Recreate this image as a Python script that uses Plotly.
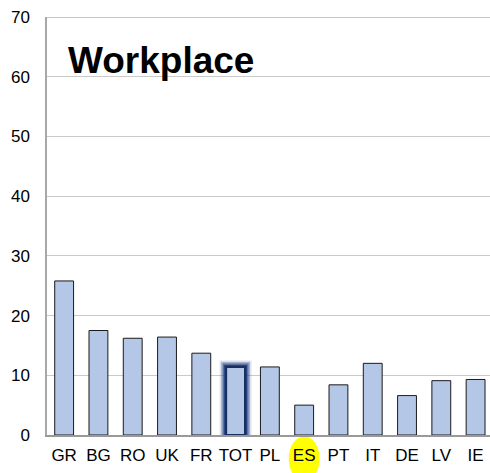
import plotly.graph_objects as go

countries = ["GR", "BG", "RO", "UK", "FR", "TOT", "PL", "ES", "PT", "IT", "DE", "LV", "IE"]
values = [25.8, 17.5, 16.2, 16.4, 13.7, 11.4, 11.4, 5.0, 8.4, 12.0, 6.6, 9.1, 9.3]
y_ticks = [0, 10, 20, 30, 40, 50, 60, 70]

total_label = "TOT"
marked_label = "ES"

FONT = "Arial, Liberation Sans, sans-serif"
BAR_FILL = "#b4c7e7"
BAR_W = 0.55
PX_PER_CAT = 443 / 12.92
PX_PER_UNIT = 418 / 70

fig = go.Figure()

# soft dark-blue glow around the total bar
i_tot = countries.index(total_label)
for grow, alpha in [(6.5, 0.15), (5, 0.3), (3.5, 0.55), (2, 0.9)]:
    fig.add_trace(go.Bar(
        x=[i_tot], y=[values[i_tot] + grow / PX_PER_UNIT],
        width=BAR_W + 2 * grow / PX_PER_CAT,
        marker=dict(color=f"rgba(30,62,128,{alpha})", line=dict(width=0)),
        hoverinfo="skip", showlegend=False,
    ))

fig.add_trace(go.Bar(
    x=list(range(len(countries))), y=values, width=BAR_W,
    marker=dict(
        color=BAR_FILL,
        line=dict(color=["#1c2f5c" if c == total_label else "#1a1a1a" for c in countries],
                  width=[2 if c == total_label else 1 for c in countries]),
    ),
    showlegend=False,
))

# yellow highlight behind one label
i_es = countries.index(marked_label)
fig.add_shape(
    type="circle", xref="x", yref="paper",
    x0=i_es - 0.45, x1=i_es + 0.45, y0=-0.11, y1=-0.003,
    fillcolor="#ffff00", line=dict(width=0), layer="below",
)

# top frame line (plotly skips the grid line at the range edge)
fig.add_shape(
    type="line", xref="paper", yref="y",
    x0=0, x1=1, y0=y_ticks[-1], y1=y_ticks[-1],
    line=dict(color="#b4b4b4", width=1.5),
)

fig.add_annotation(
    text="<b>Workplace</b>", xref="paper", yref="paper",
    x=0.043, y=0.897, xanchor="left", yanchor="middle",
    showarrow=False, font=dict(family=FONT, size=37, color="black"),
)

fig.update_layout(
    width=490, height=473,
    margin=dict(l=47, r=0, t=17, b=38),
    paper_bgcolor="white", plot_bgcolor="white",
    barmode="overlay",
    font=dict(family=FONT, size=17, color="black"),
)
fig.update_xaxes(
    range=[-0.5, 12.42], tickmode="array",
    tickvals=list(range(len(countries))), ticktext=countries,
    showgrid=False, showline=True, linecolor="#999999", linewidth=1.5,
    ticks="", ticklabelstandoff=4, ticklabeloverflow="allow",
)
fig.update_yaxes(
    range=[0, 70], tickmode="array", tickvals=y_ticks,
    showgrid=True, gridcolor="#cacaca", gridwidth=1,
    showline=True, linecolor="#a8a8a8", linewidth=1.5,
    zeroline=False, ticks="", ticklabelstandoff=12, ticklabeloverflow="allow",
)

fig.write_html(
    "out.html",
    config={"displayModeBar": False},
    post_script="document.body.style.margin='0';document.body.style.overflow='hidden';",
)
